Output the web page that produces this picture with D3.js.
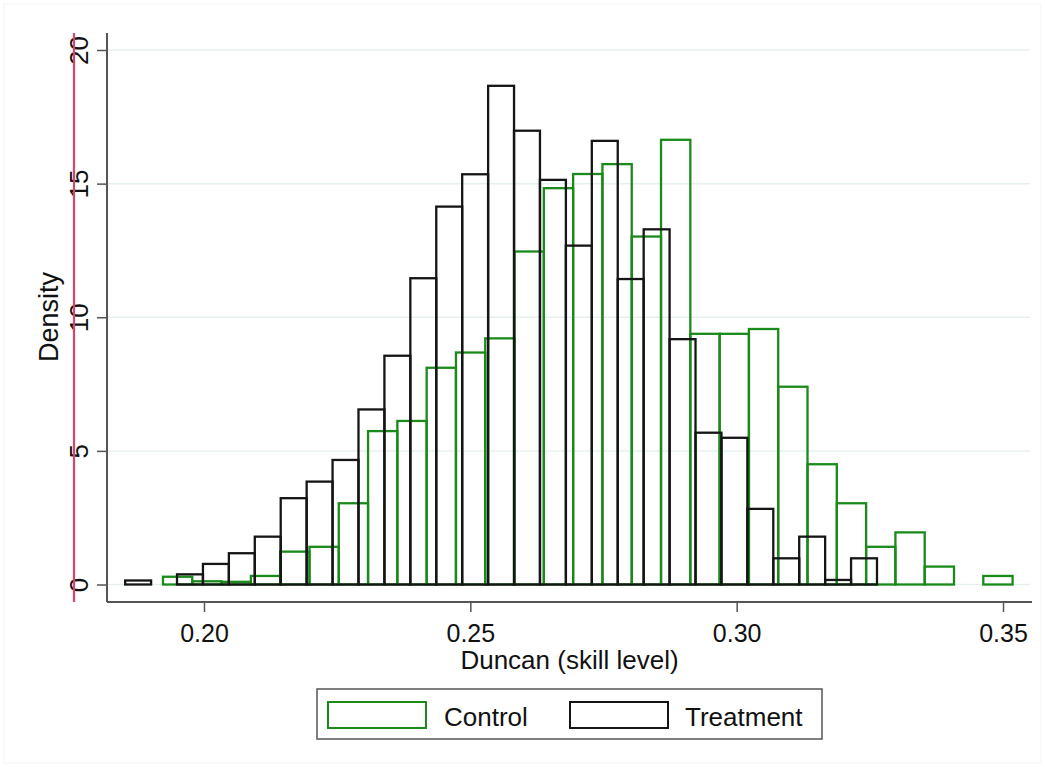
<!DOCTYPE html>
<html>
<head>
<meta charset="utf-8">
<script src="https://cdn.jsdelivr.net/npm/d3@7"></script>
<style>
  body { margin: 0; background: #fff; }
  svg text { font-family: "Liberation Sans", Arial, sans-serif; fill: #111; }
</style>
</head>
<body>
<div id="chart"></div>
<script>
// histogram bins (density)
var controlStart = 0.1923;
var controlWidth = 0.0055;
var controlDensity = [0.29, 0.12, 0.10, 0.32, 1.23, 1.41, 3.04, 5.74, 6.12, 8.11,
  8.68, 9.21, 12.46, 14.83, 15.36, 15.73, 13.02, 16.64, 9.38, 9.38,
  9.56, 7.40, 4.50, 3.04, 1.41, 1.95, 0.67, 0, 0.32];

var treatmentStart = 0.1852;
var treatmentWidth = 0.004867;
var treatmentDensity = [0.15, 0, 0.38, 0.77, 1.17, 1.79, 3.23, 3.85, 4.66, 6.55,
  8.56, 11.46, 14.14, 15.35, 18.66, 16.98, 15.14, 12.68, 16.6, 11.43,
  13.29, 9.18, 5.68, 5.49, 2.83, 0.98, 1.79, 0.17, 0.98];

var xTicks = [0.20, 0.25, 0.30, 0.35];
var yTicks = [0, 5, 10, 15, 20];
var seriesNames = ["Control", "Treatment"];

var svgWidth = 1045;
var svgHeight = 767;

var green = "#1a8a1a";
var black = "#151515";
var axisColor = "#555";

var svg = d3.select("#chart")
  .append("svg")
  .attr("width", svgWidth)
  .attr("height", svgHeight);

// faint outer border
svg.append("rect")
  .attr("x", 4).attr("y", 4)
  .attr("width", svgWidth - 8).attr("height", svgHeight - 8)
  .attr("fill", "none")
  .attr("stroke", "#f3f3f3");

// scales
var xScale = d3.scaleLinear().domain([0.20, 0.35]).range([204, 1003]);
var yScale = d3.scaleLinear().domain([0, 20]).range([584.5, 50]);

var plotLeft = 107, plotRight = 1032, plotTop = 33, plotBottom = 602;

// gridlines
svg.append("g")
  .selectAll("line")
  .data(yTicks)
  .enter()
  .append("line")
  .attr("x1", plotLeft + 1)
  .attr("x2", 1030)
  .attr("y1", d => yScale(d))
  .attr("y2", d => yScale(d))
  .attr("stroke", "#e6f0f1")
  .attr("stroke-width", 1.5);

// bars
function drawBars(start, w, values, color) {
  var bins = values.map((v, i) => ({ x0: start + i * w, x1: start + (i + 1) * w, v: v }))
    .filter(d => d.v > 0);
  svg.append("g")
    .selectAll("rect")
    .data(bins)
    .enter()
    .append("rect")
    .attr("x", d => xScale(d.x0))
    .attr("width", d => xScale(d.x1) - xScale(d.x0))
    .attr("y", d => yScale(d.v))
    .attr("height", d => yScale(0) - yScale(d.v))
    .attr("fill", "none")
    .attr("stroke", color)
    .attr("stroke-width", 2.3);
}
drawBars(controlStart, controlWidth, controlDensity, green);
drawBars(treatmentStart, treatmentWidth, treatmentDensity, black);

// x axis
var xAxis = d3.axisBottom(xScale)
  .tickValues(xTicks)
  .tickFormat(d3.format(".2f"))
  .tickSize(10)
  .tickSizeOuter(0);

var xg = svg.append("g")
  .attr("transform", `translate(0, ${plotBottom})`)
  .call(xAxis);
xg.select(".domain").remove();
xg.selectAll(".tick line").attr("stroke", axisColor).attr("stroke-width", 1.5);
xg.selectAll(".tick text")
  .attr("y", 40)
  .attr("dy", 0)
  .style("font-size", "25px")
  .style("font-family", "Liberation Sans, Arial, sans-serif")
  .attr("fill", "#111");

svg.append("line")
  .attr("x1", plotLeft).attr("x2", plotRight)
  .attr("y1", plotBottom).attr("y2", plotBottom)
  .attr("stroke", axisColor).attr("stroke-width", 2);

// y axis
var yAxis = d3.axisLeft(yScale)
  .tickValues(yTicks)
  .tickSize(10)
  .tickSizeOuter(0);

var yg = svg.append("g")
  .attr("transform", `translate(${plotLeft}, 0)`)
  .call(yAxis);
yg.select(".domain").remove();
yg.selectAll(".tick line").attr("stroke", axisColor).attr("stroke-width", 1.5);
yg.selectAll(".tick text")
  .attr("transform", "rotate(-90)")
  .attr("x", 0)
  .attr("y", -19)
  .attr("dy", 0)
  .attr("text-anchor", "middle")
  .style("font-size", "26px")
  .style("font-family", "Liberation Sans, Arial, sans-serif")
  .attr("fill", "#111");

svg.append("line")
  .attr("x1", plotLeft).attr("x2", plotLeft)
  .attr("y1", plotTop).attr("y2", plotBottom)
  .attr("stroke", axisColor).attr("stroke-width", 2);

// the red line through the y labels
svg.append("line")
  .attr("x1", 74).attr("x2", 74)
  .attr("y1", plotTop).attr("y2", plotBottom)
  .attr("stroke", "#d6456e")
  .attr("stroke-width", 2.2);

// axis titles
svg.append("text")
  .attr("transform", "translate(58, 317) rotate(-90)")
  .attr("text-anchor", "middle")
  .style("font-size", "27px")
  .text("Density");

svg.append("text")
  .attr("x", 569.5)
  .attr("y", 669)
  .attr("text-anchor", "middle")
  .style("font-size", "26px")
  .text("Duncan (skill level)");

// legend
var legend = svg.append("g");
legend.append("rect")
  .attr("x", 317).attr("y", 689)
  .attr("width", 505).attr("height", 50)
  .attr("fill", "#fff")
  .attr("stroke", axisColor)
  .attr("stroke-width", 1.5);

var legendItems = [
  { name: seriesNames[0], color: green, sx: 328, tx: 444 },
  { name: seriesNames[1], color: black, sx: 570, tx: 685 }
];
legend.selectAll(".swatch")
  .data(legendItems)
  .enter()
  .append("rect")
  .attr("class", "swatch")
  .attr("x", d => d.sx).attr("y", 702)
  .attr("width", 98).attr("height", 26)
  .attr("fill", "#fff")
  .attr("stroke", d => d.color)
  .attr("stroke-width", 2);

legend.selectAll(".ltext")
  .data(legendItems)
  .enter()
  .append("text")
  .attr("class", "ltext")
  .attr("x", d => d.tx).attr("y", 726)
  .style("font-size", "26px")
  .text(d => d.name);
</script>
</body>
</html>
